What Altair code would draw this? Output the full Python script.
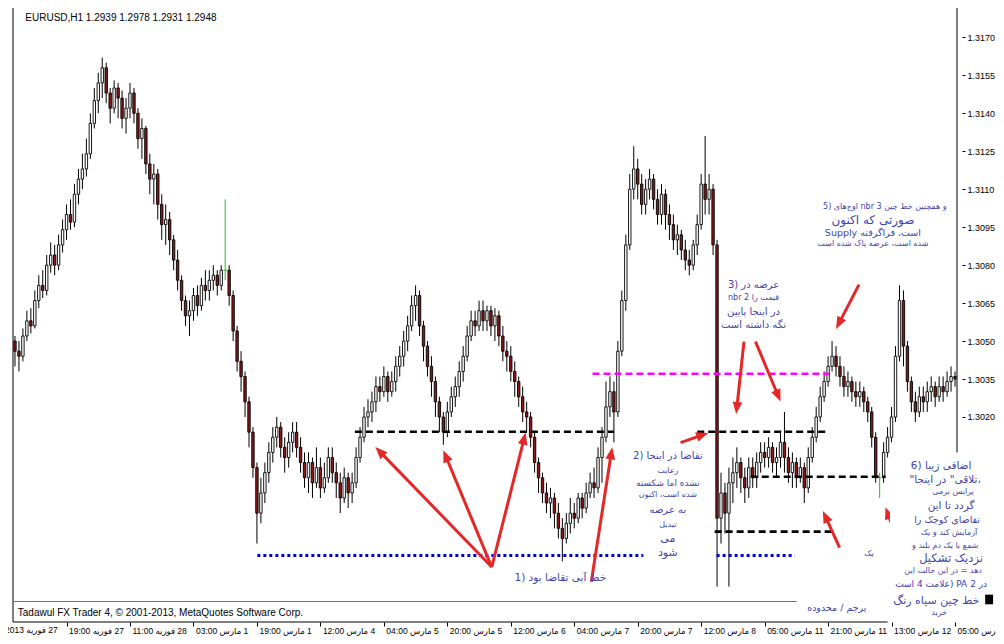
import json
import math
import altair as alt
import pandas as pd

# ---------------- data (prices in pips above 1.3000, e.g. 46 -> 1.3046) ----------------
OPEN0 = 50
CLOSE = [46, 44, 52, 58, 56, 66, 72, 70, 80, 84,
         80, 88, 94, 100, 97, 108, 114, 118, 124, 136,
         145, 152, 158, 148, 142, 150, 146, 138, 142, 148,
         140, 130, 134, 120, 114, 116, 104, 96, 98, 90,
         82, 74, 66, 60, 62, 68, 64, 72, 70, 74,
         76, 72, 78, 78, 68, 54, 42, 36, 26, 14,
         0, -18, -10, -2, 6, 12, 16, 8, 4, 10,
         14, 8, 2, -4, 2, -6, 0, -8, -4, 4,
         -2, -6, -12, -4, -10, -6, 4, 12, 20, 22,
         26, 32, 30, 36, 30, 34, 40, 44, 50, 56,
         64, 68, 56, 48, 40, 34, 26, 20, 14, 22,
         28, 32, 38, 44, 52, 58, 56, 62, 58, 62,
         56, 60, 52, 46, 44, 38, 34, 28, 22, 20,
         12, 2, -4, -10, -14, -12, -18, -24, -28, -22,
         -18, -20, -12, -16, -10, -6, -8, 4, 12, 24,
         30, 22, 46, 66, 88, 110, 118, 112, 104, 110,
         114, 106, 100, 108, 100, 96, 90, 92, 86, 82,
         80, 88, 96, 112, 106, 110, 88, -20, -10, -18,
         -6, -2, 2, -4, -8, 0, -4, 2, 6, 4,
         8, 2, 4, 10, 4, -2, 2, -4, 0, -8,
         4, 12, 20, 28, 34, 40, 44, 40, 36, 32,
         34, 30, 28, 30, 26, 22, 12, -4, -4, 6,
         12, 20, 44, 66, 48, 34, 26, 22, 28, 26,
         30, 32, 28, 32, 30, 34, 36, 35]
HIGH = [52, 50, 55, 62, 63, 70, 76, 78, 84, 89,
        88, 92, 98, 104, 106, 112, 118, 124, 130, 140,
        150, 156, 162, 160, 150, 153, 152, 149, 146, 152,
        150, 142, 138, 135, 124, 120, 118, 108, 104, 101,
        92, 86, 76, 68, 66, 71, 72, 75, 78, 78,
        80, 78, 80, 106, 80, 70, 56, 46, 38, 28,
        16, 2, -4, 2, 10, 16, 20, 18, 12, 14,
        18, 18, 12, 6, 6, 4, 8, 4, 2, 8,
        8, 2, -2, 0, -2, -2, 8, 16, 24, 27,
        30, 36, 36, 40, 38, 38, 44, 48, 54, 60,
        68, 72, 70, 58, 50, 44, 36, 28, 22, 26,
        32, 36, 42, 48, 56, 62, 62, 66, 66, 64,
        64, 63, 62, 56, 50, 48, 42, 36, 32, 26,
        22, 14, 4, -2, -6, -8, -10, -14, -20, -18,
        -12, -14, -10, -10, -6, -2, 0, 8, 16, 34,
        36, 34, 50, 70, 92, 116, 127, 122, 116, 114,
        118, 116, 110, 112, 110, 104, 100, 96, 94, 90,
        86, 90, 100, 116, 131, 116, 112, 90, -2, -6,
        0, 4, 8, 4, 0, 4, 4, 6, 10, 10,
        12, 10, 8, 14, 22, 8, 6, 4, 4, 2,
        8, 16, 24, 32, 38, 44, 50, 48, 44, 40,
        38, 36, 34, 34, 32, 28, 24, 14, -2, 10,
        16, 24, 48, 72, 70, 50, 36, 30, 32, 32,
        34, 36, 34, 36, 36, 38, 40, 38]
LOW = [40, 38, 42, 50, 53, 55, 63, 67, 68, 77,
       76, 78, 85, 90, 94, 95, 104, 110, 115, 122,
       134, 140, 146, 144, 136, 140, 138, 134, 132, 138,
       136, 126, 122, 116, 108, 104, 98, 90, 88, 84,
       78, 70, 62, 56, 52, 58, 60, 62, 66, 66,
       70, 68, 70, 74, 64, 50, 38, 30, 20, 8,
       -4, -30, -22, -14, -6, 2, 8, 4, -2, 0,
       6, 4, -2, -8, -10, -12, -8, -12, -10, -6,
       -6, -12, -18, -14, -16, -14, -8, 2, 10, 16,
       18, 22, 26, 28, 26, 28, 30, 36, 40, 46,
       54, 58, 52, 42, 36, 28, 20, 14, 9, 12,
       20, 24, 28, 34, 42, 50, 52, 54, 54, 54,
       52, 50, 48, 42, 38, 34, 28, 24, 18, 14,
       8, -2, -10, -14, -18, -20, -24, -28, -37, -30,
       -26, -24, -22, -20, -18, -12, -12, -10, -6, 10,
       20, 10, 20, 44, 62, 86, 106, 106, 100, 100,
       106, 102, 96, 96, 94, 90, 86, 84, 82, 78,
       76, 78, 84, 94, 100, 100, 84, -47, -30, -26,
       -47, -14, -8, -10, -14, -12, -8, -8, -2, 0,
       0, -2, -4, 0, -2, -6, -8, -8, -6, -14,
       -10, 2, 10, 18, 26, 32, 38, 36, 32, 28,
       28, 26, 24, 24, 22, 18, 8, -6, -12, -6,
       4, 10, 18, 42, 40, 30, 22, 18, 20, 22,
       22, 26, 24, 26, 26, 28, 30, 32]

# x-axis tick bars (one label every 16 hourly bars) and their texts
TICK_BARS = [13, 29, 45, 61, 77, 93, 109, 125, 141, 157, 173, 189, 205, 221, 237]
TICK_LABELS = ["27 فوریه 19:00", "28 فوریه 11:00", "1 مارس 03:00", "1 مارس 19:00",
               "4 مارس 12:00", "5 مارس 04:00", "5 مارس 20:00", "6 مارس 12:00",
               "7 مارس 04:00", "7 مارس 20:00", "8 مارس 12:00", "11 مارس 05:00",
               "11 مارس 21:00", "12 مارس 13:00", "13 مارس 05:00"]
FIRST_LABEL = "27 فوریه 2013"
PRICE_TICKS = [20, 35, 50, 65, 80, 95, 110, 125, 140, 155, 170]

# horizontal level lines: (bar from, bar to, price pips)
BLACK_DASH = [(85.7, 151.0, 14.2), (172.0, 204.5, 14.2), (185.5, 219.5, -3.6), (176.4, 206.0, -25.3)]
MAGENTA_DASH = [(145.6, 205.2, 37.1)]
BLUE_DOT = [(61.1, 158.4, -34.7), (176.9, 196.6, -34.7)]

# red arrows: (tail bar, tail pips, tip bar, tip pips)
ARROWS = [(120.2, -39.3, 90.7, 8.4), (120.2, -39.3, 107.9, 7.2), (120.2, -39.3, 128.8, 14.2),
          (145.3, -45.1, 150.6, 8.4), (167.8, 9.9, 175.0, 13.8),
          (183.8, 49.8, 181.8, 20.8), (186.7, 49.8, 193.1, 25.8),
          (212.8, 72.3, 206.9, 54.5), (207.9, -31.6, 203.6, -16.8),
          (222.7, -29.6, 219.4, -15.3)]

# annotation texts: (bar, pips, text, font size)
NOTES = [
    (137.5, -43.6, "1) خط آبی تقاضا بود", 10.5),
    (164.6, 4.5, "2) تقاضا در اینجا", 10),
    (164.6, -1.3, "رعایت", 8),
    (164.6, -6.0, "نشده اما شکسته", 9),
    (164.6, -11.0, "شده است، اکنون", 8),
    (164.6, -16.8, "به عرضه", 10),
    (164.6, -22.6, "تبدیل", 8),
    (164.6, -28.1, "می", 11),
    (164.6, -33.9, "شود", 11),
    (186.2, 72.3, "3) عرضه در", 10),
    (186.2, 66.9, "nbr 2 قیمت را", 8),
    (186.2, 61.5, "در اینجا پایین", 10),
    (186.2, 56.4, "نگه داشته است", 10),
    (219.3, 103.0, "5) اوج‌های nbr 3 و همچنین خط چین", 8),
    (216.3, 97.9, "صورتی که اکنون", 12),
    (216.3, 92.6, "Supply است، فراگرفته", 9.5),
    (216.3, 88.2, "شده است، عرضه پاک شده است", 8),
    (233.5, 0.6, "6) اضافی زیبا", 10.5),
    (234.5, -4.8, "\"تلاقی\" در اینجا،", 10.5),
    (236.5, -9.5, "پرایس برمی", 8),
    (236.0, -15.3, "گردد تا این", 10.5),
    (235.0, -20.7, "تقاضای کوچک را", 9.5),
    (235.5, -25.7, "آزمایش کند و یک", 8),
    (234.5, -30.8, "شمع با یک دم بلند و", 8),
    (236.0, -36.2, "نزدیک تشکیل", 11.5),
    (234.0, -40.9, "دهد = در این حالت این", 8),
    (233.5, -45.9, "علامت 4 است) PA در 2", 9),
    (232.3, -52.9, "خط چین سیاه رنگ", 11),
    (233.0, -57.5, "خرید", 8),
    (215.3, -34.3, "یک", 8),
    (207.2, -55.6, "پرچم / محدوده", 9.5),
]

TITLE = "EURUSD,H1  1.2939 1.2978 1.2931 1.2948"
COPYRIGHT = "Tadawul FX Trader 4, © 2001-2013, MetaQuotes Software Corp."

RLE, PDF = "\u202b", "\u202c"

# ---------------- geometry ----------------
W, H = 954, 614
XMIN, XMAX = -0.5, 237.5
YMIN, YMAX = -61.0, 181.6
PPB = W / (XMAX - XMIN)
PPP = H / (YMAX - YMIN)
xs = alt.Scale(domain=[XMIN, XMAX], nice=False, zero=False)
ys = alt.Scale(domain=[YMIN, YMAX], nice=False, zero=False)

LABEL_FONT = "Liberation Sans, DejaVu Sans"
NOTE_FONT = "DejaVu Sans"
NOTE_COLOR = "#4343A6"
RED = "#E42828"
GREEN = "#2DB82D"

label_expr = json.dumps([RLE + t + PDF for t in TICK_LABELS], ensure_ascii=False) + \
    "[round((datum.value - 13) / 16)]"

AX = alt.Axis(values=TICK_BARS, labelExpr=label_expr, title=None, domain=False, grid=False,
              tickSize=4, tickColor="black", labelAlign="left", labelBaseline="top",
              labelPadding=0, labelOffset=2, labelFont=LABEL_FONT, labelFontSize=8.5,
              labelColor="black", labelOverlap=False, labelFlush=False, labelBound=False)
AY = alt.Axis(orient="right", values=PRICE_TICKS,
              labelExpr="format(1.3 + datum.value / 10000, '.4f')",
              title=None, domain=False, grid=False, tickSize=3, tickColor="black",
              labelPadding=2, labelFont=LABEL_FONT, labelFontSize=9, labelColor="black")


def X(field):
    return alt.X(field, scale=xs, axis=AX, title=None)


def Y(field):
    return alt.Y(field, scale=ys, axis=AY, title=None)


opens = [OPEN0] + CLOSE[:-1]
rows = []
for i, (o, c, h, l) in enumerate(zip(opens, CLOSE, HIGH, LOW)):
    kind = "doji" if o == c else ("bull" if c > o else "bear")
    rows.append(dict(i=i, o=o, c=c, h=h, l=l, kind=kind,
                     x0=i - 0.45, x1=i + 0.45,
                     wick=GREEN if kind == "doji" else "black",
                     fill={"doji": GREEN, "bull": "white", "bear": "#8A1818"}[kind]))
candles = pd.DataFrame(rows)

wicks = alt.Chart(candles).mark_rule(strokeWidth=1).encode(
    x=X("i:Q"), y=Y("l:Q"), y2="h:Q", color=alt.Color("wick:N", scale=None))

bodies = alt.Chart(candles).transform_filter("datum.kind != 'doji'").mark_bar(
    size=2.4, stroke="black", strokeWidth=0.9).encode(
    x=X("i:Q"), y=Y("o:Q"), y2="c:Q", fill=alt.Fill("fill:N", scale=None))

doji = alt.Chart(candles).transform_filter("datum.kind == 'doji'").mark_rule(
    color=GREEN, strokeWidth=1).encode(x=X("x0:Q"), x2="x1:Q", y=Y("c:Q"))

# frame lines
frame_df = pd.DataFrame([
    dict(x=XMIN, x2=XMIN, y=YMIN, y2=YMAX, c="black"),
    dict(x=XMAX, x2=XMAX, y=6.0, y2=YMAX, c="black"),
    dict(x=XMIN, x2=220.0, y=YMIN, y2=YMIN, c="black"),
    dict(x=XMIN, x2=197.1, y=-52.9, y2=-52.9, c="#707070"),
])
frame = alt.Chart(frame_df).mark_rule(strokeWidth=1).encode(
    x=X("x:Q"), x2="x2:Q", y=Y("y:Q"), y2="y2:Q", color=alt.Color("c:N", scale=None))


def level_layer(segs, color, dash, width):
    df = pd.DataFrame([dict(x=a, x2=b, y=p) for a, b, p in segs])
    return alt.Chart(df).mark_rule(color=color, strokeDash=dash, strokeWidth=width).encode(
        x=X("x:Q"), x2="x2:Q", y=Y("y:Q"))


# arrows
arrow_rows = []
head_rows = []
for (x0, y0, x1, y1) in ARROWS:
    dxp = (x1 - x0) * PPB
    dyp = -(y1 - y0) * PPP
    L = math.hypot(dxp, dyp)
    ux, uy = dxp / L, dyp / L
    ang = math.degrees(math.atan2(ux, -uy)) % 360
    arrow_rows.append(dict(x=x0, y=y0, x2=x1 - 6 * ux / PPB, y2=y1 + 6 * uy / PPP))
    head_rows.append(dict(x=x1 - 7 * ux / PPB, y=y1 + 7 * uy / PPP, ang=ang))
shafts = alt.Chart(pd.DataFrame(arrow_rows)).mark_rule(color=RED, strokeWidth=3).encode(
    x=X("x:Q"), y=Y("y:Q"), x2="x2:Q", y2="y2:Q")
heads = alt.Chart(pd.DataFrame(head_rows)).mark_point(
    shape="M0,-1L0.8,1L-0.8,1Z", filled=True, size=150, color=RED, opacity=1).encode(
    x=X("x:Q"), y=Y("y:Q"), angle=alt.Angle("ang:Q", scale=None))

# white box behind annotation 6 and the small black marker
box = alt.Chart(pd.DataFrame([dict(x=220.6, x2=247.5, y=5.3, y2=-60.3)])).mark_rect(
    color="white").encode(x=X("x:Q"), x2="x2:Q", y=Y("y:Q"), y2="y2:Q")
marker = alt.Chart(pd.DataFrame([dict(x=244.6, x2=246.6, y=-50.2, y2=-54.0)])).mark_rect(
    color="black").encode(x=X("x:Q"), x2="x2:Q", y=Y("y:Q"), y2="y2:Q")

notes_df = pd.DataFrame([dict(x=a, y=b, t=t, s=s) for a, b, t, s in NOTES])
notes = alt.Chart(notes_df).mark_text(font=NOTE_FONT, color=NOTE_COLOR, align="center",
                                      baseline="middle").encode(
    x=X("x:Q"), y=Y("y:Q"), text="t:N", size=alt.Size("s:Q", scale=None))

info_df = pd.DataFrame([dict(x=2.6, y=177.6, t=TITLE), dict(x=0.7, y=-57.5, t=COPYRIGHT)])
info = alt.Chart(info_df).mark_text(font=LABEL_FONT, fontSize=10, color="black", align="left",
                                    baseline="middle").encode(x=X("x:Q"), y=Y("y:Q"), text="t:N")

first_lbl = alt.Chart(pd.DataFrame([dict(x=-3.0, y=-62.6, t=RLE + FIRST_LABEL + PDF)])).mark_text(
    font=LABEL_FONT, fontSize=8.5, color="black", align="left", baseline="top", dx=2).encode(
    x=X("x:Q"), y=Y("y:Q"), text="t:N")

chart = alt.layer(
    wicks, frame, bodies, doji,
    level_layer(BLACK_DASH, "black", [7, 4], 2.6),
    level_layer(MAGENTA_DASH, "#FF00FF", [7, 4], 2.6),
    level_layer(BLUE_DOT, "#0000DD", [3, 3], 3),
    shafts, heads, box, marker, notes, info, first_lbl,
).properties(
    width=W, height=H,
    autosize=alt.AutoSizeParams(type="none"),
    padding={"left": 0, "top": 0, "right": 34, "bottom": 14},
).configure_view(stroke=None)

chart.save("out.html", embed_options={"renderer": "svg", "actions": False})
